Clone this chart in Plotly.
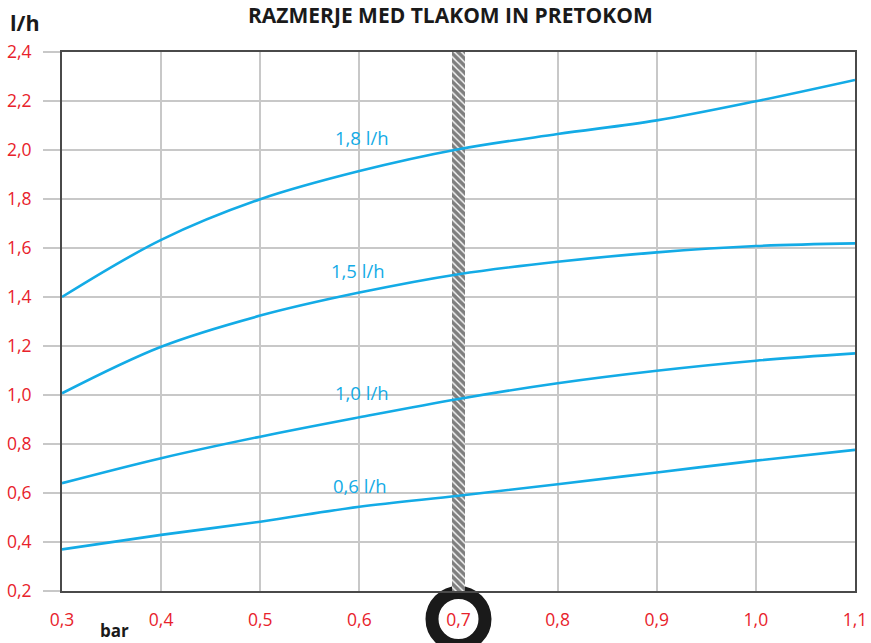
import plotly.graph_objects as go

# Data
pressure = [0.3, 0.4, 0.5, 0.6, 0.7, 0.8, 0.9, 1.0, 1.1]
flow_18 = [1.40, 1.633, 1.799, 1.914, 2.003, 2.065, 2.121, 2.199, 2.286]
flow_15 = [1.007, 1.197, 1.324, 1.418, 1.493, 1.544, 1.582, 1.608, 1.619]
flow_10 = [0.640, 0.742, 0.830, 0.909, 0.984, 1.048, 1.099, 1.140, 1.170]
flow_06 = [0.370, 0.429, 0.483, 0.544, 0.589, 0.636, 0.684, 0.732, 0.776]
series_names = ["1,8 l/h", "1,5 l/h", "1,0 l/h", "0,6 l/h"]
series_values = [flow_18, flow_15, flow_10, flow_06]
label_pos = [(0.603, 2.05), (0.599, 1.51), (0.603, 1.012), (0.601, 0.629)]

marked_pressure = 0.7
y_min, y_max = 0.2, 2.4
x_ticks = [0.3, 0.4, 0.5, 0.6, 0.7, 0.8, 0.9, 1.0, 1.1]
y_ticks = [0.2, 0.4, 0.6, 0.8, 1.0, 1.2, 1.4, 1.6, 1.8, 2.0, 2.2, 2.4]

BLUE = "#13abe6"
RED = "#e8222b"
FONT = "Open Sans"

fig = go.Figure()

# Hatched marker band at 0.7 bar
fig.add_trace(go.Bar(
    x=[marked_pressure], y=[y_max - y_min], base=[y_min], width=0.013,
    marker=dict(color="white", line=dict(width=0),
                pattern=dict(shape="\\", fgcolor="#000000", bgcolor="white",
                             size=5, solidity=0.72)),
    showlegend=False, hoverinfo="skip"))

for name, vals in zip(series_names, series_values):
    fig.add_trace(go.Scatter(
        x=pressure, y=vals, mode="lines", name=name,
        line=dict(color=BLUE, width=2.6, shape="spline", smoothing=1.0),
        showlegend=False))

for name, (lx, ly) in zip(series_names, label_pos):
    fig.add_annotation(x=lx, y=ly, text=name, showarrow=False,
                       font=dict(family=FONT, size=18.5, color=BLUE))

# Ring around the 0.7 tick label
fig.add_shape(type="circle", xref="x", yref="paper",
              xsizemode="pixel", ysizemode="pixel",
              xanchor=marked_pressure, yanchor=0,
              x0=-26.5, x1=26.5, y0=-28 - 26.5, y1=-28 + 26.5,
              line=dict(color="#1a1a1a", width=13), layer="below")

fig.add_annotation(xref="paper", yref="paper", x=-0.068, y=1.0,
                   yshift=30, text="<b>l/h</b>", showarrow=False,
                   xanchor="left", yanchor="middle",
                   font=dict(family=FONT, size=21.5, color="#1a1a1a"))
fig.add_annotation(xref="paper", yref="paper", x=0.066, y=0,
                   yshift=-39, text="<b>bar</b>", showarrow=False,
                   xanchor="center", yanchor="middle",
                   font=dict(family=FONT, size=17, color="#1a1a1a"))
fig.add_annotation(xref="paper", yref="paper", x=0.49, y=1.0,
                   yshift=37.5, text="<b>RAZMERJE MED TLAKOM IN PRETOKOM</b>",
                   showarrow=False, xanchor="center", yanchor="middle",
                   font=dict(family=FONT, size=21, color="#1a1a1a"))

fig.update_layout(
    width=871, height=643,
    margin=dict(l=62, r=16, t=52, b=52, autoexpand=False),
    paper_bgcolor="white", plot_bgcolor="white",
    separators=",.",
    font=dict(family=FONT),
    bargap=0,
)
fig.update_xaxes(range=[0.3, 1.1], tickvals=x_ticks, tickformat=".1f",
                 showgrid=True, gridcolor="#c8c8c8", gridwidth=1.5,
                 ticks="", ticklabelstandoff=12, automargin=False,
                 tickfont=dict(family=FONT, size=17.5, color=RED),
                 showline=True, linecolor="#4a4a4a", linewidth=2, mirror=True,
                 zeroline=False)
fig.update_yaxes(range=[y_min, y_max], tickvals=y_ticks, tickformat=".1f",
                 showgrid=True, gridcolor="#c8c8c8", gridwidth=1.5,
                 ticks="outside", ticklen=17, tickcolor="#c8c8c8", tickwidth=1.5,
                 ticklabelstandoff=8, automargin=False,
                 tickfont=dict(family=FONT, size=17.5, color=RED),
                 showline=True, linecolor="#4a4a4a", linewidth=2, mirror=True,
                 zeroline=False)

# Remove the browser's default 8 px page margin so the figure fills the window
fig.write_html("out.html", config={"displayModeBar": False},
               post_script="document.body.style.margin='0';document.body.style.overflow='hidden';")
